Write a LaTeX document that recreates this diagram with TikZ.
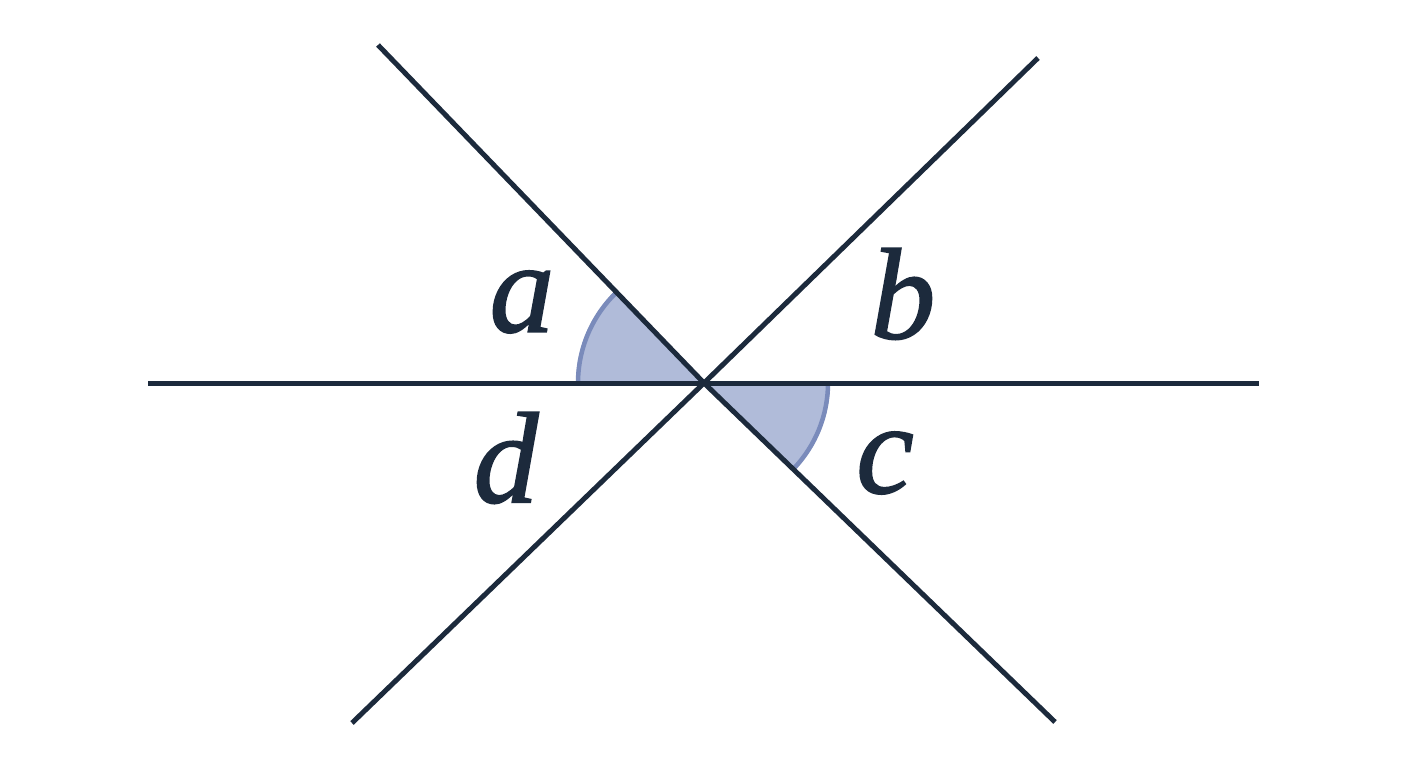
\documentclass[tikz,border=0pt]{standalone}
\usepackage{fontspec}
\newfontface\lblfont{Liberation Serif Italic}[FakeBold=1.2]
\definecolor{ink}{HTML}{1C2A3C}
\definecolor{sectfill}{HTML}{B0BBD9}
\definecolor{sectedge}{HTML}{7A8BBB}
\tikzset{
  ray/.style={draw=ink, line width=5pt},
  sector/.style={fill=sectfill},
  sectarc/.style={draw=sectedge, line width=4.5pt},
  lbl/.style={text=ink, inner sep=0pt, font=\fontsize{130}{130}\lblfont}
}
\begin{document}
\begin{tikzpicture}[x=1pt,y=-1pt]
\useasboundingbox (0,0) rectangle (1408,768);
\fill[white] (0,0) rectangle (1408,768);
\coordinate (O) at (704,383);
\coordinate (H1) at (148,383);
\coordinate (H2) at (1259,383);
\coordinate (P1) at (378,45);
\coordinate (P2) at (1055,722);
\coordinate (Q1) at (352,723);
\coordinate (Q2) at (1038,58);
% sectors (y axis points down, so angles are mirrored)
\fill[sector] (O) -- (576,383) arc[start angle=180, end angle=226, radius=128] -- cycle;
\draw[sectarc] (578,383) arc[start angle=180, end angle=226, radius=126];
\fill[sector] (O) -- (830,383) arc[start angle=0, end angle=44, radius=126] -- cycle;
\draw[sectarc] (828,383) arc[start angle=0, end angle=44, radius=124];
% lines
\draw[ray] (H1) -- (H2);
\draw[ray] (P1) -- (O) -- (P2);
\draw[ray] (Q1) -- (O) -- (Q2);
% labels
\node[lbl] (la) at (522,302) {a};
\node[lbl] (lb) at (903,294) {b};
\node[lbl] (lc) at (885,463) {c};
\node[lbl] (ld) at (506,458) {d};
\end{tikzpicture}
\end{document}
